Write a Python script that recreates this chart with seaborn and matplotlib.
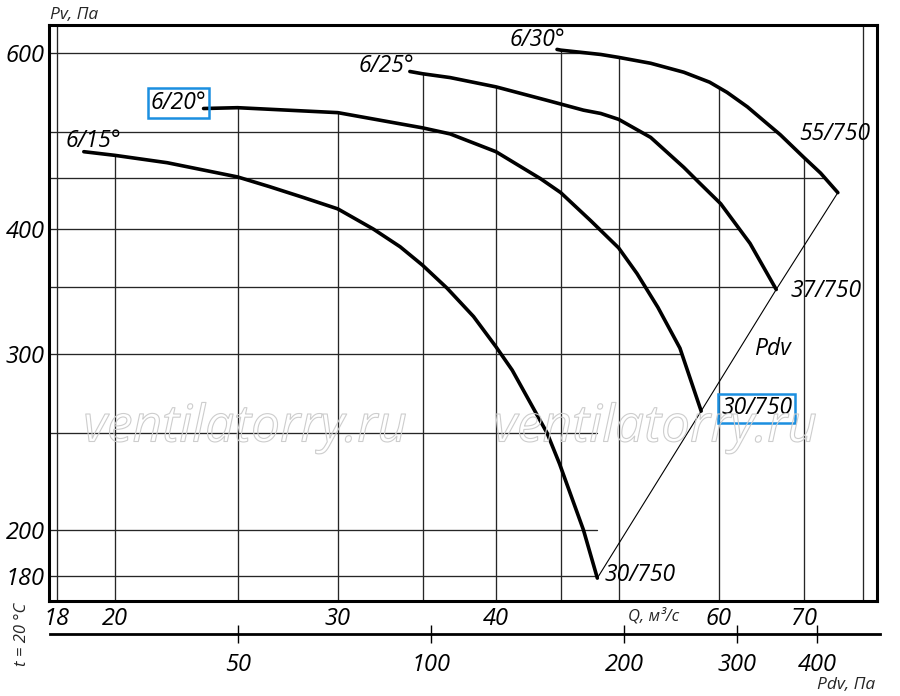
import numpy as np
import matplotlib
matplotlib.use("Agg")
import matplotlib.pyplot as plt
import matplotlib.patheffects as pe
from matplotlib.ticker import FixedLocator, NullLocator, FixedFormatter
import seaborn as sns

# fan curves, Q (m3/s) vs Pv (Pa)
q15 = [18.9, 20.0, 22.0, 25.0, 26.5, 28.2, 30.0, 32.0, 33.6, 35.0, 36.6, 38.4, 40.0, 41.2, 43.9, 44.9, 46.9, 48.1]
p15 = [478, 474, 466, 451, 441, 430, 419, 400, 384, 368, 349, 327, 305, 289, 250, 233, 200, 179]

q20 = [23.5, 25.0, 30.0, 35.0, 36.8, 40.0, 43.4, 45.0, 47.5, 50.0, 51.7, 53.7, 55.9, 58.1]
p20 = [528, 529, 523, 505, 498, 478, 449, 435, 408, 383, 361, 334, 304, 263]

q25 = [34.2, 35.0, 36.8, 40.0, 43.9, 46.9, 48.4, 50.0, 53.0, 56.3, 57.9, 60.2, 63.5, 66.6]
p25 = [575, 572, 567, 555, 538, 526, 522, 515, 494, 461, 445, 424, 387, 348]

q30 = [44.7, 45.0, 48.4, 50.0, 53.0, 56.3, 59.0, 60.9, 63.2, 65.5, 67.1, 70.0, 72.2, 74.5]
p30 = [605, 604, 598, 594, 586, 574, 561, 548, 530, 510, 497, 472, 455, 435]

curve_names = ["6/15°", "6/20°", "6/25°", "6/30°"]
end_names = ["30/750", "30/750", "37/750", "55/750"]

q_grid = [18, 20, 25, 30, 35, 40, 45, 50, 60, 70, 78]
p_grid = [180, 200, 250, 300, 350, 400, 450, 500, 600]
q_ticks = [18, 20, 30, 40, 60, 70]
p_ticks = [180, 200, 300, 400, 600]
pdv_ticks = [50, 100, 200, 300, 400]

Q_LIM = (17.74, 80.0)
P_LIM = (169.8, 640.0)
PDV_LIM = (25.45, 501.5)

sns.set_style("white")
plt.rcParams['font.family'] = ['Open Sans', 'DejaVu Sans']
plt.rcParams['font.style'] = 'italic'

fig = plt.figure(figsize=(9, 6.96), dpi=100)
W, H = 900, 696
ax = fig.add_axes([49 / W, 1 - 601 / H, 828 / W, 576 / H])
ax.set_xscale('log')
ax.set_yscale('log')
ax.set_xlim(*Q_LIM)
ax.set_ylim(*P_LIM)

curves = [(q15, p15), (q20, p20), (q25, p25), (q30, p30)]
ends_q = [c[0][-1] for c in curves]
ends_p = [c[1][-1] for c in curves]

def lq(v):
    return np.log10(np.asarray(v, dtype=float))

# vertical grid lines run from the bottom up to the highest curve
for qg in q_grid:
    top = P_LIM[1]
    hits = []
    for qs, ps in curves:
        if qs[0] <= qg <= qs[-1]:
            hits.append(10 ** np.interp(np.log10(qg), lq(qs), lq(ps)))
    if hits:
        top = max(hits)
    ax.plot([qg, qg], [P_LIM[0], top], color='#262626', lw=0.95, zorder=1)

# horizontal grid lines run from the left to the outer curve / Pdv line
for pg in p_grid:
    right = Q_LIM[1]
    hits = []
    for qs, ps in curves + [(ends_q, ends_p)]:
        if min(ps) <= pg <= max(ps):
            lp = lq(ps)[::-1]
            hits.append(10 ** np.interp(np.log10(pg), lp, lq(qs)[::-1]))
    if hits:
        right = max(hits)
    ax.plot([Q_LIM[0], right], [pg, pg], color='#262626', lw=0.95, zorder=1)

for qs, ps in curves:
    sns.lineplot(x=qs, y=ps, ax=ax, color='black', lw=2.6, sort=False,
                 estimator=None, zorder=3)

# Pdv line through curve ends
ax.plot(ends_q, ends_p, color='black', lw=0.8, zorder=2)

ax.xaxis.set_major_locator(FixedLocator(q_ticks))
ax.xaxis.set_major_formatter(FixedFormatter([str(v) for v in q_ticks]))
ax.xaxis.set_minor_locator(NullLocator())
ax.yaxis.set_major_locator(FixedLocator(p_ticks))
ax.yaxis.set_major_formatter(FixedFormatter([str(v) for v in p_ticks]))
ax.yaxis.set_minor_locator(NullLocator())
ax.tick_params(axis='both', length=0, labelsize=17, labelcolor='black')
ax.tick_params(axis='x', pad=4)
ax.tick_params(axis='y', pad=3)
for s in ax.spines.values():
    s.set_linewidth(2.2)
    s.set_color('black')
    s.set_visible(True)

lab = dict(fontsize=16.5, color='black', zorder=5)
box = dict(boxstyle='square,pad=0.12', facecolor='none', edgecolor='#1b8fe0', lw=1.8)
start_off = [(7, 8), (-18, 4), (-17, 4), (-14, 7)]
for (qs, ps), name, off, bx in zip(curves, curve_names, start_off, [False, True, False, False]):
    ax.annotate(name, (qs[0], ps[0]), xytext=off, textcoords='offset points',
                ha='center', va='center', bbox=box if bx else None, **lab)
end_off = [(31, 2), (40, 2), (36, -1), (-2, 42)]
for qe, pe_, name, off, bx in zip(ends_q, ends_p, end_names, end_off, [False, True, False, False]):
    ax.annotate(name, (qe, pe_), xytext=off, textcoords='offset points',
                ha='center', va='center', bbox=box if bx else None, **lab)
mid_q = np.sqrt(ends_q[1] * ends_q[2])
mid_p = np.sqrt(ends_p[1] * ends_p[2])
ax.annotate("Pdv", (mid_q, mid_p), xytext=(24, 1), textcoords='offset points',
            ha='center', va='center', **lab)

# watermark
for xw in [245, 655]:
    fig.text(xw / W, 1 - 428 / H, "ventilatorry.ru", fontsize=37, ha='center', va='center',
             color=(1, 1, 1, 0), fontstyle='italic', zorder=0,
             path_effects=[pe.Stroke(linewidth=0.8, foreground='#cdcdcd')])

# lower dynamic pressure scale
ax2 = fig.add_axes([50 / W, 1 - 634 / H, 830 / W, 0.0005])
ax2.set_xscale('log')
ax2.set_xlim(*PDV_LIM)
ax2.set_yticks([])
for k in ['top', 'left', 'right']:
    ax2.spines[k].set_visible(False)
ax2.spines['bottom'].set_linewidth(2.0)
ax2.spines['bottom'].set_color('black')
ax2.xaxis.set_major_locator(FixedLocator(pdv_ticks))
ax2.xaxis.set_major_formatter(FixedFormatter([str(v) for v in pdv_ticks]))
ax2.xaxis.set_minor_locator(NullLocator())
ax2.tick_params(axis='x', bottom=True, direction='inout', length=13, width=1.0,
                color='black', labelsize=17, labelcolor='black', pad=7)
ax2.patch.set_visible(False)

fig.text(50 / W, 1 - 15 / H, "Pv, Па", fontsize=12.5, ha='left', va='center')
fig.text(654 / W, 1 - 616 / H, "Q, м³/с", fontsize=12, ha='center', va='center')
fig.text(846 / W, 1 - 685 / H, "Pdv, Па", fontsize=12.5, ha='center', va='center')
fig.text(22 / W, 1 - 634 / H, "t = 20 °C", fontsize=12, ha='center', va='center', rotation=90)

fig.savefig("out.png", dpi=100)
